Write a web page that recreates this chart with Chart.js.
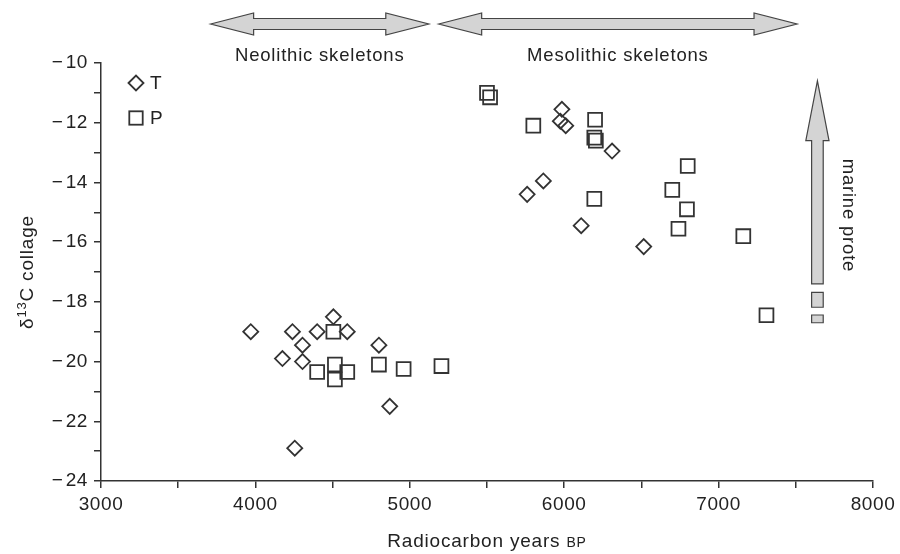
<!DOCTYPE html>
<html>
<head>
<meta charset="utf-8">
<script src="https://cdn.jsdelivr.net/npm/chart.js@4/dist/chart.umd.min.js"></script>
<style>
  html, body { margin: 0; padding: 0; background: #fff; }
  #wrap { width: 900px; height: 554px; }
</style>
</head>
<body>
<div id="wrap"><canvas id="chart" width="900" height="554"></canvas></div>
<script>
// T skeletons (diamonds): radiocarbon years BP / d13C collage
const tYears = [3970, 4175, 4240, 4255, 4305, 4305, 4400, 4505, 4595, 4800, 4870,
                5760, 5865, 5975, 5985, 6010, 6110, 6310, 6515];
const tDelta = [-19.0, -19.9, -19.0, -22.9, -19.45, -20.0, -19.0, -18.5, -19.0, -19.45, -21.5,
                -14.4, -13.95, -11.95, -11.55, -12.1, -15.45, -12.95, -16.15];

// P skeletons (squares)
const pYears = [4400, 4505, 4515, 4515, 4595, 4800, 4960, 5205,
                5500, 5520, 5800, 6195, 6195, 6200, 6205, 6700, 6740, 6795, 6800, 7160, 7310];
const pDelta = [-20.35, -19.0, -20.1, -20.6, -20.35, -20.1, -20.25, -20.15,
                -11.0, -11.15, -12.1, -12.5, -14.55, -11.9, -12.6, -14.25, -15.55, -14.9, -13.45, -15.8, -18.45];

// axis tick labels
const xTickLabels = [3000, 4000, 5000, 6000, 7000, 8000];
const yTickLabels = [-10, -12, -14, -16, -18, -20, -22, -24];

// period arrows along the top (in years BP)
const periodNames = ['Neolithic skeletons', 'Mesolithic skeletons'];
const periodFrom = [3710, 5187];
const periodTo = [5123, 7508];

// marine protein arrow (years BP, d13C)
const marineYear = 7640;
const marineTip = -10.6;
const marineHeadBase = -12.6;
const marineShaftEnd = -17.4;
const marineDashes = [[-17.68, -18.18], [-18.44, -18.7]];

const FONT = '"Liberation Sans", Arial, Helvetica, sans-serif';
const INK = '#333';
const TEXT = '#222';
const ARROW_FILL = '#d4d4d4';

function toPoints(xs, ys) {
  return xs.map((x, i) => ({ x: x, y: ys[i] }));
}

function doubleArrow(ctx, x1, x2, yc, head, hw, sw) {
  ctx.beginPath();
  ctx.moveTo(x1, yc);
  ctx.lineTo(x1 + head, yc - hw);
  ctx.lineTo(x1 + head, yc - sw);
  ctx.lineTo(x2 - head, yc - sw);
  ctx.lineTo(x2 - head, yc - hw);
  ctx.lineTo(x2, yc);
  ctx.lineTo(x2 - head, yc + hw);
  ctx.lineTo(x2 - head, yc + sw);
  ctx.lineTo(x1 + head, yc + sw);
  ctx.lineTo(x1 + head, yc + hw);
  ctx.closePath();
  ctx.fill();
  ctx.stroke();
}

const overlay = {
  id: 'overlay',
  beforeDraw(chart) {
    // the source typeface runs a bit wider than Liberation Sans
    chart.ctx.letterSpacing = '0.6px';
  },
  afterDraw(chart) {
    const { ctx, chartArea, scales } = chart;
    const x = scales.x, y = scales.y;
    ctx.save();
    ctx.letterSpacing = '0.8px';
    ctx.fillStyle = ARROW_FILL;
    ctx.strokeStyle = '#444';
    ctx.lineWidth = 1.2;

    // period arrows + names
    periodNames.forEach((name, i) => {
      const x1 = x.getPixelForValue(periodFrom[i]);
      const x2 = x.getPixelForValue(periodTo[i]);
      ctx.fillStyle = ARROW_FILL;
      doubleArrow(ctx, x1, x2, 24, 43, 11, 5.5);
      ctx.fillStyle = TEXT;
      ctx.font = '18.5px ' + FONT;
      ctx.textAlign = 'center';
      ctx.textBaseline = 'middle';
      ctx.fillText(name, (x1 + x2) / 2, 56);
    });

    // marine protein arrow
    const mx = x.getPixelForValue(marineYear);
    const tip = y.getPixelForValue(marineTip);
    const hb = y.getPixelForValue(marineHeadBase);
    const se = y.getPixelForValue(marineShaftEnd);
    ctx.fillStyle = ARROW_FILL;
    ctx.beginPath();
    ctx.moveTo(mx, tip);
    ctx.lineTo(mx + 11.6, hb);
    ctx.lineTo(mx + 5.8, hb);
    ctx.lineTo(mx + 5.8, se);
    ctx.lineTo(mx - 5.8, se);
    ctx.lineTo(mx - 5.8, hb);
    ctx.lineTo(mx - 11.6, hb);
    ctx.closePath();
    ctx.fill();
    ctx.stroke();
    marineDashes.forEach(d => {
      const a = y.getPixelForValue(d[0]);
      const b = y.getPixelForValue(d[1]);
      ctx.beginPath();
      ctx.rect(mx - 5.8, a, 11.6, b - a);
      ctx.fill();
      ctx.stroke();
    });
    ctx.save();
    ctx.translate(mx + 31, (tip + se) / 2 + 33);
    ctx.rotate(Math.PI / 2);
    ctx.fillStyle = TEXT;
    ctx.font = '18.5px ' + FONT;
    ctx.textAlign = 'center';
    ctx.textBaseline = 'middle';
    ctx.fillText('marine prote', 0, 0);
    ctx.restore();

    // legend
    ctx.strokeStyle = INK;
    ctx.lineWidth = 1.8;
    const lx = chartArea.left + 35;
    const ly1 = chartArea.top + 20;
    const ly2 = chartArea.top + 55;
    ctx.beginPath();
    ctx.moveTo(lx - 7.5, ly1);
    ctx.lineTo(lx, ly1 - 7.5);
    ctx.lineTo(lx + 7.5, ly1);
    ctx.lineTo(lx, ly1 + 7.5);
    ctx.closePath();
    ctx.stroke();
    ctx.strokeRect(lx - 6.7, ly2 - 6.7, 13.4, 13.4);
    ctx.fillStyle = TEXT;
    ctx.font = '19px ' + FONT;
    ctx.textAlign = 'left';
    ctx.textBaseline = 'middle';
    ctx.fillText('T', lx + 14, ly1 + 1);
    ctx.fillText('P', lx + 14, ly2 + 1);

    // x axis title, BP in small caps
    const cx = (chartArea.left + chartArea.right) / 2;
    ctx.font = '19px ' + FONT;
    const main = 'Radiocarbon years ';
    const w1 = ctx.measureText(main).width;
    ctx.font = '14px ' + FONT;
    const w2 = ctx.measureText('BP').width;
    const sx = cx - (w1 + w2) / 2;
    ctx.textBaseline = 'alphabetic';
    ctx.font = '19px ' + FONT;
    ctx.fillText(main, sx, 547);
    ctx.font = '14px ' + FONT;
    ctx.fillText('BP', sx + w1, 547);

    // y axis title with superscript 13
    ctx.save();
    ctx.translate(26, (chartArea.top + chartArea.bottom) / 2);
    ctx.rotate(-Math.PI / 2);
    ctx.font = '19px ' + FONT;
    const a1 = '\u03b4', a2 = '13', a3 = 'C collage';
    const wa = ctx.measureText(a1).width;
    const wc = ctx.measureText(a3).width;
    ctx.font = '13px ' + FONT;
    const wb = ctx.measureText(a2).width;
    const tx = -(wa + wb + wc) / 2;
    ctx.textBaseline = 'alphabetic';
    ctx.font = '19px ' + FONT;
    ctx.fillText(a1, tx, 7);
    ctx.font = '13px ' + FONT;
    ctx.fillText(a2, tx + wa, -0.5);
    ctx.font = '19px ' + FONT;
    ctx.fillText(a3, tx + wa + wb, 7);
    ctx.restore();

    ctx.restore();
  }
};

const tickFont = { family: FONT, size: 19 };

const config = {
  type: 'scatter',
  data: {
    datasets: [
      {
        label: 'T',
        data: toPoints(tYears, tDelta),
        pointStyle: 'rectRot',
        pointRadius: 7.5,
        borderColor: INK,
        borderWidth: 1.8,
        backgroundColor: 'rgba(0,0,0,0)'
      },
      {
        label: 'P',
        data: toPoints(pYears, pDelta),
        pointStyle: 'rect',
        pointRadius: 9.8,
        borderColor: INK,
        borderWidth: 1.8,
        backgroundColor: 'rgba(0,0,0,0)'
      }
    ]
  },
  options: {
    responsive: false,
    animation: false,
    events: [],
    layout: { padding: { top: 63, right: 27, left: 0, bottom: 0 } },
    plugins: {
      legend: { display: false },
      tooltip: { enabled: false }
    },
    scales: {
      x: {
        type: 'linear',
        min: 3000,
        max: 8000,
        ticks: {
          stepSize: 500,
          autoSkip: false,
          maxRotation: 0,
          padding: 5,
          color: TEXT,
          font: tickFont,
          callback: v => xTickLabels.includes(v) ? String(v) : ''
        },
        grid: { drawOnChartArea: false, tickLength: 7, color: INK, lineWidth: 1.5 },
        border: { color: INK, width: 1.5 },
        afterFit: s => { s.height = 73; }
      },
      y: {
        type: 'linear',
        min: -24,
        max: -10,
        ticks: {
          stepSize: 1,
          autoSkip: false,
          padding: 6,
          color: TEXT,
          font: tickFont,
          callback: v => yTickLabels.includes(v) ? '\u2212\u200a' + Math.abs(v) : ''
        },
        grid: { drawOnChartArea: false, tickLength: 7, color: INK, lineWidth: 1.5 },
        border: { color: INK, width: 1.5 },
        afterFit: s => { s.width = 101; }
      }
    }
  },
  plugins: [overlay]
};

new Chart(document.getElementById('chart'), config);
</script>
</body>
</html>
